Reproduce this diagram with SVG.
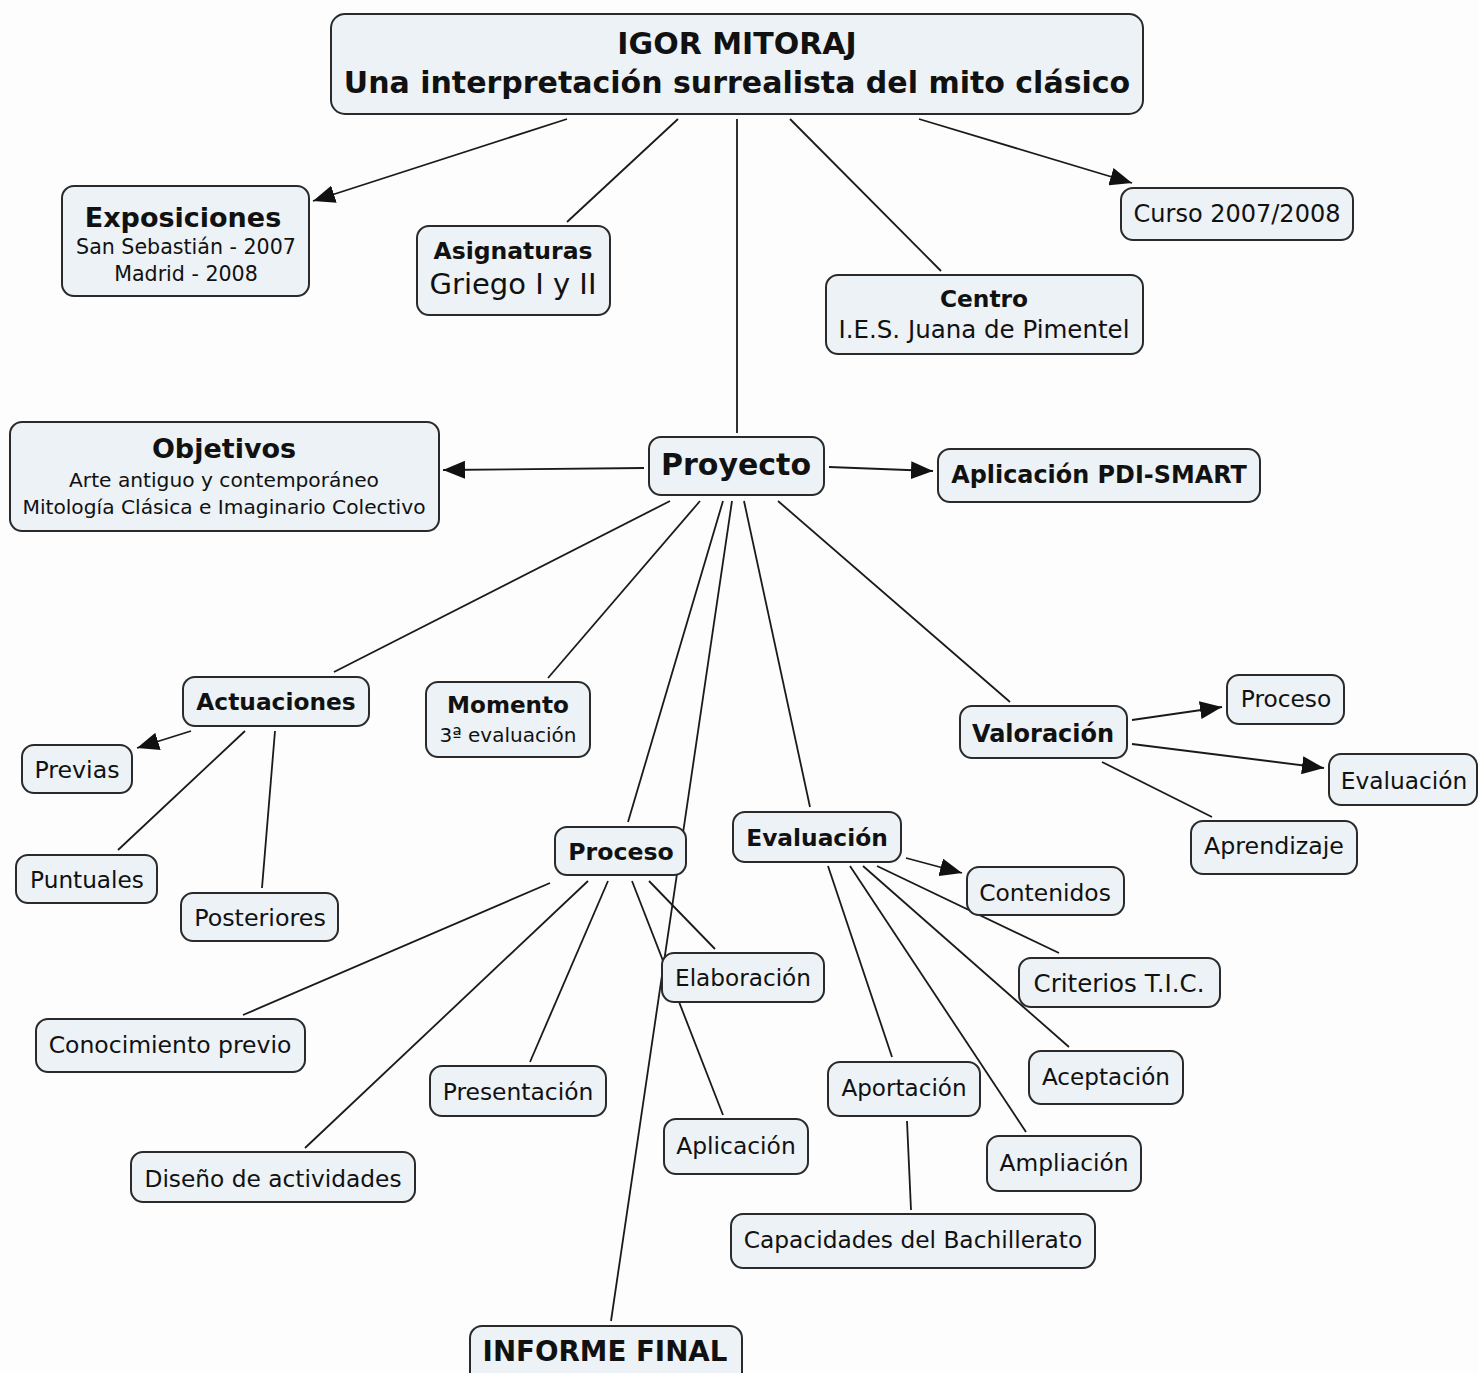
<svg xmlns="http://www.w3.org/2000/svg" width="1478" height="1373" viewBox="0 0 1478 1373">
<defs>
<marker id="arr" markerUnits="userSpaceOnUse" markerWidth="24" markerHeight="18" refX="22" refY="9" orient="auto">
<path d="M0,0 L22,9 L0,18 Z" fill="#111"/>
</marker>
<style>
.n rect{fill:#ecf2f6;stroke:#2a2a2a;stroke-width:2}
text{font-family:"DejaVu Sans","Verdana",sans-serif;fill:#111;text-anchor:middle}
.b{font-weight:bold}
.c line{stroke:#1a1a1a;stroke-width:1.8}
.a{marker-end:url(#arr)}
</style>
</defs>
<rect width="1478" height="1373" fill="#fdfdfd"/>
<g class="c" id="connectors">
<line class="a" x1="567" y1="119" x2="313" y2="201"/>
<line x1="678" y1="119" x2="567" y2="222"/>
<line x1="737" y1="119" x2="737" y2="433"/>
<line x1="790" y1="119" x2="941" y2="271"/>
<line class="a" x1="919" y1="119" x2="1132" y2="183"/>
<line class="a" x1="644" y1="468" x2="443" y2="470"/>
<line class="a" x1="829" y1="467" x2="933" y2="471"/>
<line x1="670" y1="501" x2="334" y2="672"/>
<line x1="700" y1="501" x2="548" y2="678"/>
<line x1="723" y1="501" x2="628" y2="822"/>
<line x1="732" y1="501" x2="611" y2="1321"/>
<line x1="744" y1="501" x2="810" y2="807"/>
<line x1="778" y1="501" x2="1010" y2="702"/>
<line class="a" x1="191" y1="731" x2="137" y2="748"/>
<line x1="245" y1="731" x2="118" y2="850"/>
<line x1="275" y1="731" x2="262" y2="888"/>
<line class="a" x1="1132" y1="720" x2="1222" y2="707"/>
<line class="a" x1="1132" y1="744" x2="1324" y2="768"/>
<line x1="1102" y1="762" x2="1212" y2="817"/>
<line class="a" x1="906" y1="858" x2="962" y2="873"/>
<line x1="877" y1="866" x2="1059" y2="953"/>
<line x1="863" y1="866" x2="1069" y2="1047"/>
<line x1="850" y1="866" x2="1026" y2="1132"/>
<line x1="828" y1="866" x2="892" y2="1057"/>
<line x1="907" y1="1121" x2="911" y2="1210"/>
<line x1="550" y1="883" x2="243" y2="1015"/>
<line x1="588" y1="881" x2="305" y2="1148"/>
<line x1="608" y1="881" x2="530" y2="1062"/>
<line x1="632" y1="881" x2="723" y2="1115"/>
<line x1="649" y1="881" x2="715" y2="949"/>
</g>
<g class="n" id="titulo"><rect x="331" y="14" width="812" height="100" rx="14"/><text class="b" x="737" y="54" font-size="30">IGOR MITORAJ</text><text class="b" x="737" y="93" font-size="30">Una interpretación surrealista del mito clásico</text></g>
<g class="n" id="exposiciones"><rect x="62" y="186" width="247" height="110" rx="12"/><text class="b" x="183" y="227" font-size="27">Exposiciones</text><text x="186" y="254" font-size="20.6">San Sebastián - 2007</text><text x="186" y="281" font-size="20.6">Madrid - 2008</text></g>
<g class="n" id="asignaturas"><rect x="417" y="226" width="193" height="89" rx="12"/><text class="b" x="513" y="259" font-size="23.5">Asignaturas</text><text x="513" y="294" font-size="29">Griego I y II</text></g>
<g class="n" id="curso"><rect x="1121" y="188" width="232" height="52" rx="12"/><text x="1237" y="222" font-size="24">Curso 2007/2008</text></g>
<g class="n" id="centro"><rect x="826" y="275" width="317" height="79" rx="12"/><text class="b" x="984" y="307" font-size="23.3">Centro</text><text x="984" y="338" font-size="24.5">I.E.S. Juana de Pimentel</text></g>
<g class="n" id="objetivos"><rect x="10" y="422" width="429" height="109" rx="12"/><text class="b" x="224" y="458" font-size="27">Objetivos</text><text x="224" y="487" font-size="20.2">Arte antiguo y contemporáneo</text><text x="224" y="514" font-size="20.2">Mitología Clásica e Imaginario Colectivo</text></g>
<g class="n" id="proyecto"><rect x="649" y="437" width="175" height="58" rx="12"/><text class="b" x="736" y="475" font-size="30">Proyecto</text></g>
<g class="n" id="pdi"><rect x="938" y="449" width="322" height="53" rx="12"/><text class="b" x="1099" y="483" font-size="23.9">Aplicación PDI-SMART</text></g>
<g class="n" id="actuaciones"><rect x="183" y="677" width="186" height="49" rx="12"/><text class="b" x="276" y="710" font-size="23.3">Actuaciones</text></g>
<g class="n" id="momento"><rect x="426" y="682" width="164" height="75" rx="12"/><text class="b" x="508" y="713" font-size="23.1">Momento</text><text x="508" y="742" font-size="20">3ª evaluación</text></g>
<g class="n" id="valoracion"><rect x="960" y="706" width="167" height="52" rx="12"/><text class="b" x="1043" y="742" font-size="24">Valoración</text></g>
<g class="n" id="val-proceso"><rect x="1227" y="675" width="117" height="49" rx="12"/><text x="1286" y="707" font-size="23.3">Proceso</text></g>
<g class="n" id="val-evaluacion"><rect x="1329" y="754" width="148" height="51" rx="12"/><text x="1404" y="789" font-size="23.3">Evaluación</text></g>
<g class="n" id="aprendizaje"><rect x="1191" y="821" width="166" height="53" rx="12"/><text x="1274" y="854" font-size="23.7">Aprendizaje</text></g>
<g class="n" id="previas"><rect x="22" y="745" width="110" height="48" rx="12"/><text x="77" y="778" font-size="23.7">Previas</text></g>
<g class="n" id="puntuales"><rect x="16" y="855" width="141" height="48" rx="12"/><text x="87" y="888" font-size="23.2">Puntuales</text></g>
<g class="n" id="posteriores"><rect x="181" y="893" width="157" height="48" rx="12"/><text x="260" y="926" font-size="23.8">Posteriores</text></g>
<g class="n" id="proceso"><rect x="555" y="827" width="131" height="48" rx="12"/><text class="b" x="621" y="860" font-size="23.6">Proceso</text></g>
<g class="n" id="evaluacion"><rect x="733" y="812" width="168" height="50" rx="12"/><text class="b" x="817" y="846" font-size="23.3">Evaluación</text></g>
<g class="n" id="contenidos"><rect x="967" y="867" width="157" height="48" rx="12"/><text x="1045" y="901" font-size="23.4">Contenidos</text></g>
<g class="n" id="elaboracion"><rect x="662" y="953" width="162" height="49" rx="12"/><text x="743" y="986" font-size="23.2">Elaboración</text></g>
<g class="n" id="criterios"><rect x="1019" y="958" width="201" height="49" rx="12"/><text x="1119" y="992" font-size="24.5">Criterios T.I.C.</text></g>
<g class="n" id="conocimiento"><rect x="36" y="1019" width="269" height="53" rx="12"/><text x="170" y="1053" font-size="23.5">Conocimiento previo</text></g>
<g class="n" id="aceptacion"><rect x="1029" y="1051" width="154" height="53" rx="12"/><text x="1106" y="1085" font-size="23.1">Aceptación</text></g>
<g class="n" id="aportacion"><rect x="828" y="1062" width="152" height="54" rx="12"/><text x="904" y="1096" font-size="23.1">Aportación</text></g>
<g class="n" id="presentacion"><rect x="430" y="1066" width="176" height="50" rx="12"/><text x="518" y="1100" font-size="23.4">Presentación</text></g>
<g class="n" id="aplicacion"><rect x="664" y="1119" width="144" height="55" rx="12"/><text x="736" y="1154" font-size="23.4">Aplicación</text></g>
<g class="n" id="ampliacion"><rect x="987" y="1136" width="154" height="55" rx="12"/><text x="1064" y="1171" font-size="23.3">Ampliación</text></g>
<g class="n" id="diseno"><rect x="131" y="1152" width="284" height="50" rx="12"/><text x="273" y="1187" font-size="23.3">Diseño de actividades</text></g>
<g class="n" id="capacidades"><rect x="731" y="1214" width="364" height="54" rx="12"/><text x="913" y="1248" font-size="23.3">Capacidades del Bachillerato</text></g>
<g class="n" id="informe"><rect x="470" y="1326" width="272" height="60" rx="12"/><text class="b" x="605" y="1361" font-size="27.7">INFORME FINAL</text></g>
</svg>
